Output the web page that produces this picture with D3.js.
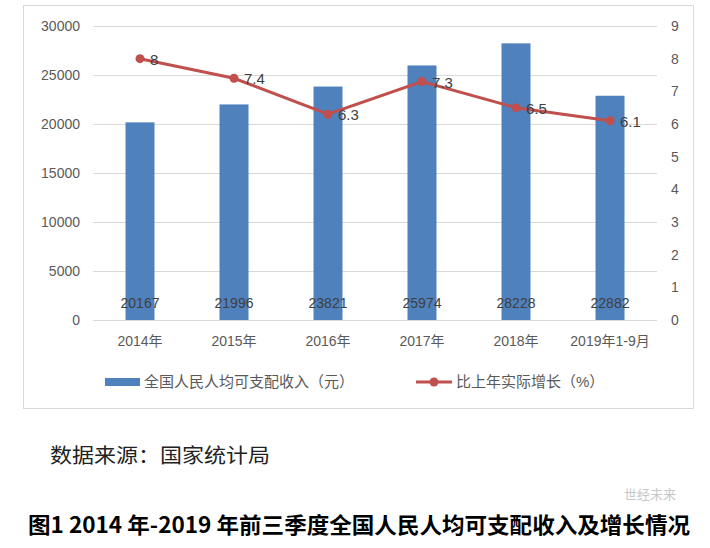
<!DOCTYPE html>
<html>
<head>
<meta charset="utf-8">
<script src="https://cdn.jsdelivr.net/npm/d3@7"></script>
<style>
  body { margin: 0; background: #fff; }
  text { font-family: "Liberation Sans", "Noto Sans CJK SC", sans-serif; }
</style>
</head>
<body>
<div id="chart"></div>
<script>
// data
const categories = ["2014年", "2015年", "2016年", "2017年", "2018年", "2019年1-9月"];
const income = [20167, 21996, 23821, 25974, 28228, 22882];
const growth = [8, 7.4, 6.3, 7.3, 6.5, 6.1];
const leftTicks = [0, 5000, 10000, 15000, 20000, 25000, 30000];
const rightTicks = [0, 1, 2, 3, 4, 5, 6, 7, 8, 9];

const barColor = "#4F81BD";
const lineColor = "#C0504D";

const svg = d3.select("#chart")
    .append("svg")
    .attr("width", 710)
    .attr("height", 548);

// outer frame
svg.append("rect")
    .attr("x", 23.5).attr("y", 5.5)
    .attr("width", 670).attr("height", 403)
    .attr("fill", "none")
    .attr("stroke", "#d9d9d9");

const plot = {left: 93, right: 657, top: 26, bottom: 320};

const x = d3.scaleBand()
    .domain(categories)
    .range([plot.left, plot.right]);

const y = d3.scaleLinear()
    .domain([0, 30000])
    .range([plot.bottom, plot.top]);

const y2 = d3.scaleLinear()
    .domain([0, 9])
    .range([plot.bottom, plot.top]);

// gridlines
svg.append("g")
    .selectAll("line")
    .data(leftTicks)
    .join("line")
    .attr("x1", plot.left).attr("x2", plot.right)
    .attr("y1", d => Math.round(y(d)) + 0.5)
    .attr("y2", d => Math.round(y(d)) + 0.5)
    .attr("stroke", "#d9d9d9")
    .attr("stroke-width", 1);

// left axis
const leftAxis = svg.append("g")
    .attr("transform", "translate(" + (plot.left - 13) + ",0)")
    .call(d3.axisLeft(y).tickValues(leftTicks).tickFormat(d3.format("d")).tickSize(0).tickPadding(0));
leftAxis.select(".domain").remove();
leftAxis.selectAll("text")
    .attr("font-size", "14px")
    .attr("fill", "#595959");

// right axis
const rightAxis = svg.append("g")
    .attr("transform", "translate(" + (plot.right + 14) + ",0)")
    .call(d3.axisRight(y2).tickValues(rightTicks).tickSize(0).tickPadding(0));
rightAxis.select(".domain").remove();
rightAxis.selectAll("text")
    .attr("font-size", "14px")
    .attr("fill", "#595959");

// bottom axis labels
const bottomAxis = svg.append("g")
    .attr("transform", "translate(0," + (plot.bottom + 16) + ")")
    .call(d3.axisBottom(x).tickSize(0).tickPadding(0));
bottomAxis.select(".domain").remove();
bottomAxis.selectAll("text")
    .attr("font-size", "14px")
    .attr("fill", "#595959");

// bars
const barW = 29;
svg.append("g")
    .selectAll("rect")
    .data(categories)
    .join("rect")
    .attr("x", (d) => x(d) + x.bandwidth() / 2 - barW / 2)
    .attr("y", (d, i) => y(income[i]))
    .attr("width", barW)
    .attr("height", (d, i) => plot.bottom - y(income[i]))
    .attr("fill", barColor);

// bar value labels
svg.append("g")
    .selectAll("text")
    .data(categories)
    .join("text")
    .attr("x", d => x(d) + x.bandwidth() / 2)
    .attr("y", y(0) - 12)
    .attr("text-anchor", "middle")
    .attr("font-size", "14px")
    .attr("fill", "#404040")
    .text((d, i) => income[i]);

// growth line
const line = d3.line()
    .x(d => x(d) + x.bandwidth() / 2)
    .y((d, i) => y2(growth[i]));

svg.append("path")
    .datum(categories)
    .attr("d", line)
    .attr("fill", "none")
    .attr("stroke", lineColor)
    .attr("stroke-width", 3);

svg.append("g")
    .selectAll("circle")
    .data(categories)
    .join("circle")
    .attr("cx", d => x(d) + x.bandwidth() / 2)
    .attr("cy", (d, i) => y2(growth[i]))
    .attr("r", 4.5)
    .attr("fill", lineColor);

svg.append("g")
    .selectAll("text")
    .data(categories)
    .join("text")
    .attr("x", d => x(d) + x.bandwidth() / 2 + 10)
    .attr("y", (d, i) => y2(growth[i]) + 6)
    .attr("font-size", "15px")
    .attr("fill", "#404040")
    .text((d, i) => growth[i]);

// legend
const legend = svg.append("g");
legend.append("rect")
    .attr("x", 105).attr("y", 378)
    .attr("width", 35).attr("height", 8)
    .attr("fill", barColor);
legend.append("text")
    .attr("x", 144).attr("y", 387)
    .attr("font-size", "15px")
    .attr("fill", "#595959")
    .text("全国人民人均可支配收入（元）");
legend.append("line")
    .attr("x1", 416).attr("x2", 452)
    .attr("y1", 382).attr("y2", 382)
    .attr("stroke", lineColor)
    .attr("stroke-width", 3);
legend.append("circle")
    .attr("cx", 434).attr("cy", 382)
    .attr("r", 4.5)
    .attr("fill", lineColor);
legend.append("text")
    .attr("x", 456).attr("y", 387)
    .attr("font-size", "15px")
    .attr("fill", "#595959")
    .text("比上年实际增长（%）");

// source note
svg.append("text")
    .attr("x", 50).attr("y", 463)
    .attr("font-size", "20px")
    .attr("fill", "#222")
    .attr("textLength", 220)
    .attr("lengthAdjust", "spacingAndGlyphs")
    .style("font-family", "'Noto Sans CJK SC', sans-serif")
    .text("数据来源：国家统计局");

// figure title
svg.append("text")
    .attr("x", 28).attr("y", 533)
    .attr("font-size", "22px")
    .attr("font-weight", "bold")
    .attr("fill", "#000")
    .attr("textLength", 662)
    .attr("lengthAdjust", "spacingAndGlyphs")
    .style("font-family", "'Noto Sans CJK SC', sans-serif")
    .text("图1 2014 年-2019 年前三季度全国人民人均可支配收入及增长情况");

// watermark (kept just above the title so the two do not collide)
svg.append("text")
    .attr("x", 624).attr("y", 499)
    .attr("font-size", "13px")
    .attr("fill", "#c8c8c8")
    .style("font-family", "'Noto Sans CJK SC', sans-serif")
    .text("世经未来");
</script>
</body>
</html>
